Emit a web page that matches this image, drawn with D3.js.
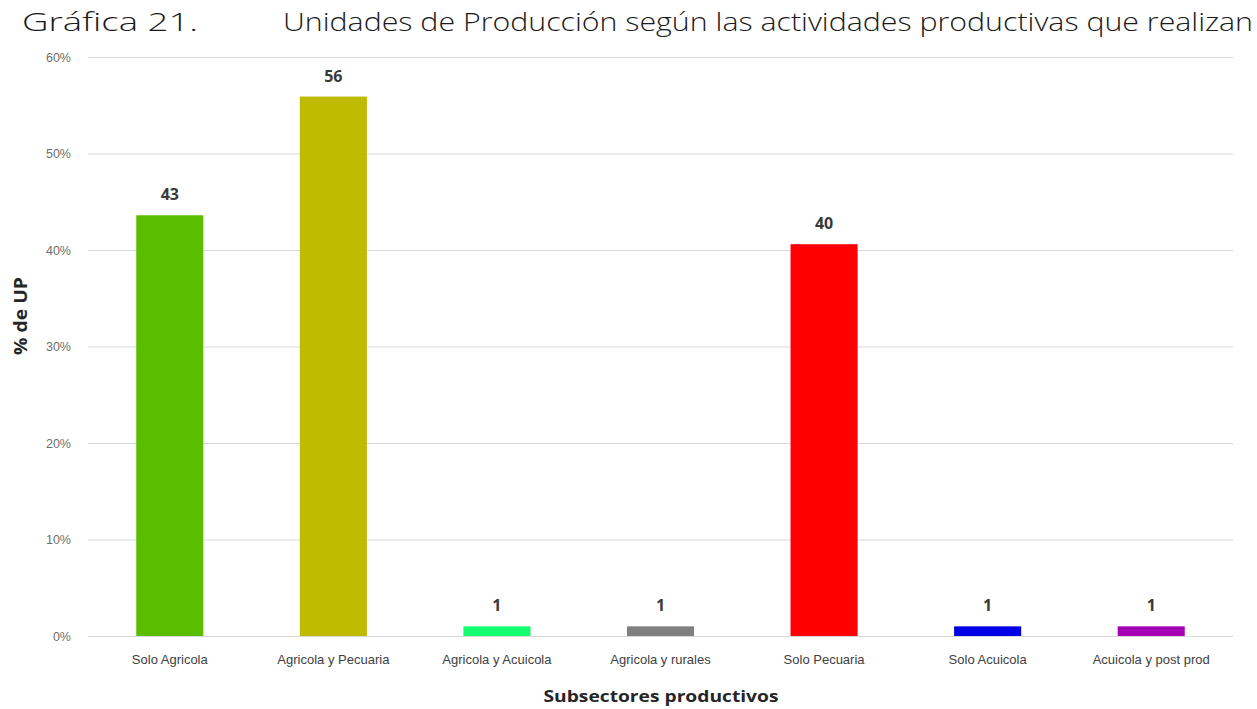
<!DOCTYPE html>
<html><head><meta charset="utf-8">
<script src="https://cdn.jsdelivr.net/npm/d3@7"></script>
<style>body{margin:0;background:#fff}svg{display:block}</style>
</head><body><svg id="c" width="1257" height="709"></svg>
<script>
const categories = ["Solo Agricola","Agricola y Pecuaria","Agricola y Acuicola","Agricola y rurales","Solo Pecuaria","Solo Acuicola","Acuicola y post prod"];
const values = [43.6, 55.9, 1, 1, 40.6, 1, 1];
const valueLabels = ["43","56","1","1","40","1","1"];
const colors = ["#5bbd00","#bfbb00","#14ff6e","#7f7f7f","#ff0000","#0000e6","#a600b4"];
const yTicks = [0,10,20,30,40,50,60];

const svg = d3.select("#c");
const x = d3.scaleBand().domain(categories).range([88,1233]).paddingInner(0.59).paddingOuter(0.295);
const y = d3.scaleLinear().domain([0,60]).range([636,57]);

svg.append("text").attr("x",22).attr("y",31).attr("font-family","Open Sans").attr("font-weight",300)
  .attr("font-size",25).attr("fill","#1a1a1a").attr("textLength",176).attr("lengthAdjust","spacingAndGlyphs").text("Gráfica 21.");
svg.append("text").attr("x",283).attr("y",31).attr("font-family","Open Sans").attr("font-weight",300)
  .attr("font-size",25).attr("fill","#1a1a1a").attr("textLength",970).attr("lengthAdjust","spacingAndGlyphs").text("Unidades de Producción según las actividades productivas que realizan");

const ya = svg.append("g").attr("transform","translate(88,0)")
  .call(d3.axisLeft(y).tickValues(yTicks).tickSize(-1145).tickFormat(d=>d+"%"));
ya.select(".domain").remove();
ya.selectAll(".tick line").attr("stroke","#d9d9d9").attr("stroke-width",1.2);
ya.selectAll(".tick text").attr("x",-17).attr("font-family","Liberation Sans").attr("font-size",12.5).attr("fill","#6e6e6e");

svg.selectAll("rect.bar").data(values).enter().append("rect").attr("class","bar")
  .attr("x",(d,i)=>x(categories[i])).attr("width",x.bandwidth())
  .attr("y",d=>y(d)).attr("height",d=>y(0)-y(d)).attr("fill",(d,i)=>colors[i]);

svg.selectAll("text.vl").data(values).enter().append("text").attr("class","vl")
  .attr("x",(d,i)=>x(categories[i])+x.bandwidth()/2).attr("y",d=>y(d)-15)
  .attr("text-anchor","middle").attr("font-family","Open Sans").attr("font-weight",700)
  .attr("font-size",16).attr("fill","#3a3a3a").text((d,i)=>valueLabels[i]);

const xa = svg.append("g").attr("transform","translate(0,636)")
  .call(d3.axisBottom(x).tickSize(0).tickPadding(19));
xa.select(".domain").remove();
xa.selectAll(".tick text").attr("font-family","Liberation Sans").attr("font-size",13).attr("fill","#404040");

svg.append("text").attr("x",661).attr("y",702).attr("text-anchor","middle").attr("font-family","Open Sans")
  .attr("font-weight",700).attr("font-size",16.5).attr("fill","#262626")
  .attr("textLength",235).attr("lengthAdjust","spacingAndGlyphs").text("Subsectores productivos");
svg.append("text").attr("transform","translate(27,316) rotate(-90)").attr("text-anchor","middle")
  .attr("font-family","Open Sans").attr("font-weight",700).attr("font-size",17).attr("fill","#262626")
  .attr("textLength",78).attr("lengthAdjust","spacingAndGlyphs").text("% de UP");
</script></body></html>
